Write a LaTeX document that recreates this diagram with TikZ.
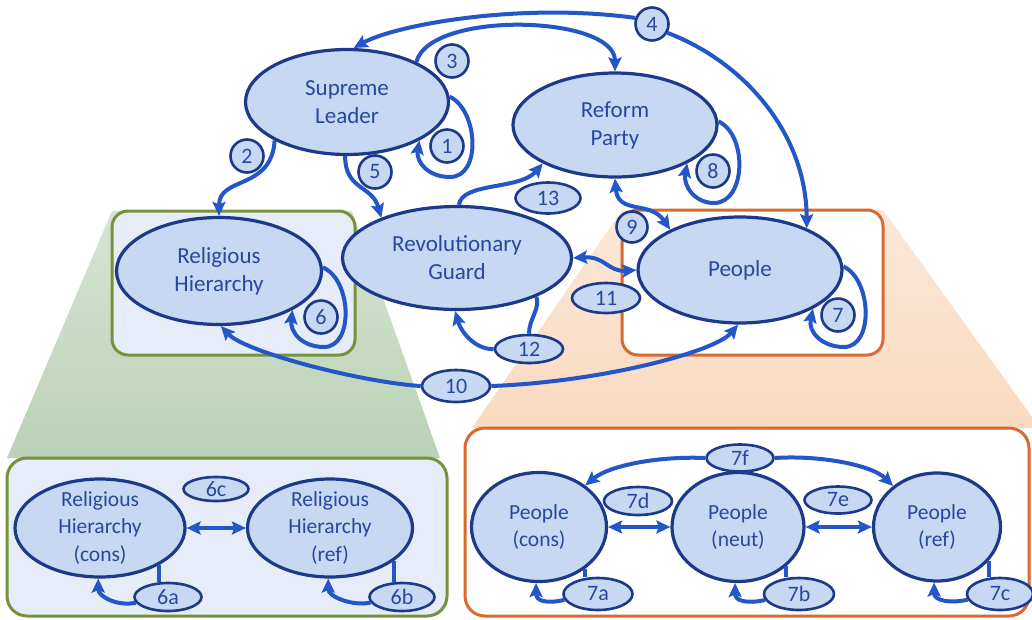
\documentclass[tikz,border=0pt]{standalone}
\usepackage{fontspec}
\setmainfont{Carlito}
\usetikzlibrary{shapes.geometric,arrows.meta,calc}
\definecolor{navy}{HTML}{1C398A}
\definecolor{fillb}{HTML}{C7D8F3}
\definecolor{arrowb}{HTML}{2356C6}
\definecolor{txtb}{HTML}{28489D}
\definecolor{boxgreen}{HTML}{76923C}
\definecolor{boxorange}{HTML}{D9692E}
\definecolor{gtop}{HTML}{D6E4D2}
\definecolor{gbot}{HTML}{BAD2B5}
\definecolor{otop}{HTML}{FBE8D8}
\definecolor{obot}{HTML}{F9DAC0}
\definecolor{ginner}{HTML}{E6EDF8}
\begin{document}
\begin{tikzpicture}[x=1pt,y=-1pt,
  ent/.style={ellipse,draw=navy,line width=3.2pt,fill=fillb,text=txtb,align=center,inner sep=-15pt,font=\fontsize{23}{28}\selectfont},
  entb/.style={ent,font=\fontsize{21.5}{27.5}\selectfont},
  lab/.style={ellipse,draw=navy,line width=2.6pt,fill=fillb,text=txtb,inner sep=0pt,font=\fontsize{22}{26}\selectfont},
  cir/.style={lab,minimum width=33pt,minimum height=33pt},
  tipA/.tip={Stealth[length=14pt,width=13pt,inset=2.5pt]},
  ln/.style={draw=arrowb,line width=4pt},
  arr/.style={ln,-tipA},
  darr/.style={ln,tipA-tipA}]
\useasboundingbox (0,0) rectangle (1032,619);
\fill[white] (0,0) rectangle (1032,619);
\begin{scope}
\clip (0,0) rectangle (1032,619);
% fan-out shadings
\shade[top color=gtop,bottom color=gbot] (112,211) -- (352,211) -- (440,458) -- (7,458) -- cycle;
\shade[top color=otop,bottom color=obot] (622,210) -- (883,210) -- (1040,428) -- (472,428) -- cycle;
% boxes
\draw[boxgreen,line width=3pt,fill=ginner,rounded corners=16pt] (112,211) rectangle (355,355);
\draw[boxorange,line width=3pt,fill=white,rounded corners=16pt] (622,210) rectangle (883,355);
\draw[boxgreen,line width=3pt,fill=ginner,rounded corners=20pt] (7,458) rectangle (447,616);
\draw[boxorange,line width=3pt,fill=white,rounded corners=20pt] (465,428) rectangle (1029,616);
\end{scope}
% main entities
\node[ent,minimum width=203pt,minimum height=105pt] (SL) at (347,102) {Supreme\\Leader};
\node[ent,minimum width=204pt,minimum height=104pt] (RP) at (615,125) {Reform\\Party};
\node[ent,minimum width=205pt,minimum height=107pt] (RH) at (219,271) {Religious\\Hierarchy};
\node[ent,minimum width=229pt,minimum height=103pt] (RG) at (457,258) {Revolutionary\\Guard};
\node[ent,minimum width=204pt,minimum height=106pt] (PE) at (740,270) {People};
% sub-entities
\node[entb,minimum width=170pt,minimum height=98pt] (RC) at (100,528) {Religious\\Hierarchy\\(cons)};
\node[entb,minimum width=165pt,minimum height=98pt] (RR) at (330,528) {Religious\\Hierarchy\\(ref)};
\node[entb,minimum width=135pt,minimum height=109pt] (PC) at (539,527) {People\\(cons)};
\node[entb,minimum width=132pt,minimum height=109pt] (PN) at (738,527) {People\\(neut)};
\node[entb,minimum width=127pt,minimum height=108pt] (PR) at (937,527) {People\\(ref)};
% labels
\node[cir] (l1) at (447,146) {1};
\node[cir] (l2) at (247,156) {2};
\node[cir] (l3) at (452,61) {3};
\node[cir] (l4) at (652,24) {4};
\node[cir] (l5) at (375,172) {5};
\node[cir] (l6) at (321,317) {6};
\node[cir] (l7) at (838,315) {7};
\node[cir] (l8) at (713,171) {8};
\node[cir,minimum width=31pt,minimum height=31pt] (l9) at (632,227) {9};
\node[lab,minimum width=68pt,minimum height=32pt] (l10) at (456,386) {10};
\node[lab,minimum width=68pt,minimum height=30pt] (l11) at (606,298) {11};
\node[lab,minimum width=68pt,minimum height=28pt] (l12) at (529,349) {12};
\node[lab,minimum width=65pt,minimum height=31pt] (l13) at (548,198) {13};
\node[lab,minimum width=67pt,minimum height=28pt] (l6a) at (168,597) {6a};
\node[lab,minimum width=65pt,minimum height=28pt] (l6b) at (402,597) {6b};
\node[lab,minimum width=65pt,minimum height=24pt] (l6c) at (216,489) {6c};
\node[lab,minimum width=69pt,minimum height=32pt] (l7a) at (598,594) {7a};
\node[lab,minimum width=70pt,minimum height=32pt] (l7b) at (799,594) {7b};
\node[lab,minimum width=66pt,minimum height=32pt] (l7c) at (1000,594) {7c};
\node[lab,minimum width=68pt,minimum height=28pt] (l7d) at (638,501) {7d};
\node[lab,minimum width=67pt,minimum height=27pt] (l7e) at (838,500) {7e};
\node[lab,minimum width=67pt,minimum height=27pt] (l7f) at (740,458) {7f};
% connectors, top level
\draw[arr] (SL.3) .. controls (478,110) and (482,177) .. (450,177) .. controls (428,177) and (416,162) .. (SL.-28);
\draw[arr] (SL.208) .. controls +(-3,50) and +(0,-40) .. (RH.north);
\draw[arr] (SL.30) .. controls (430,10) and (615,15) .. (RP.north);
\draw[arr] (l4.160) .. controls (520,2) and (395,25) .. (SL.83);
\draw[arr] (l4.-30) .. controls (740,60) and (806,130) .. (PE.32);
\draw[arr] (SL.-92) .. controls (345,190) and (372,185) .. (RG.152);
\draw[arr] (RH.2) .. controls (352,280) and (354,347) .. (324,347) .. controls (302,347) and (290,332) .. (RH.-28);
\draw[arr] (PE.2) .. controls (872,280) and (874,347) .. (844,347) .. controls (822,347) and (808,332) .. (PE.-28);
\draw[arr] (RP.2) .. controls (748,135) and (746,203) .. (714,203) .. controls (694,203) and (683,185) .. (RP.-28);
\draw[darr] (RP.-90) .. controls (618,215) and (650,200) .. (PE.150);
\draw[arr] (l10.west) .. controls (360,382) and (245,352) .. (RH.-88);
\draw[arr] (l10.east) .. controls (600,382) and (715,352) .. (PE.-92);
\draw[darr] (RG.east) .. controls (605,256) and (608,272) .. (PE.west);
\draw[ln] (l12.north) .. controls +(0,-15) and +(4,12) .. (RG.-26);
\draw[arr] (l12.west) .. controls (478,350) and (462,335) .. (RG.-92);
\draw[arr] (RG.88) .. controls (462,182) and (520,190) .. (RP.-152);
% connectors, detail level
\draw[darr] (RC.east) -- (RR.west);
\draw[ln] (RC.-32) -- (RC.-32 |- l6a.north);
\draw[arr] (l6a.190) .. controls +(-18,4) and +(0,18) .. (RC.-92);
\draw[ln] (RR.-27) -- (RR.-27 |- l6b.north);
\draw[arr] (l6b.190) .. controls +(-18,4) and +(0,18) .. (RR.-92);
\draw[darr] (PC.east) -- (PN.west);
\draw[darr] (PN.east) -- (PR.west);
\draw[arr] (l7f.west) .. controls (660,456) and (610,465) .. (PC.42);
\draw[arr] (l7f.east) .. controls (820,455) and (872,465) .. (PR.137);
\draw[ln] (PC.-42) -- (PC.-42 |- l7a.north);
\draw[arr] (l7a.190) .. controls +(-18,4) and +(0,18) .. (PC.-93);
\draw[ln] (PN.-39) -- (PN.-39 |- l7b.north);
\draw[arr] (l7b.190) .. controls +(-18,4) and +(0,18) .. (PN.-93);
\draw[ln] (PR.-33) -- (PR.-33 |- l7c.north);
\draw[arr] (l7c.190) .. controls +(-18,4) and +(0,18) .. (PR.-93);
\end{tikzpicture}
\end{document}
